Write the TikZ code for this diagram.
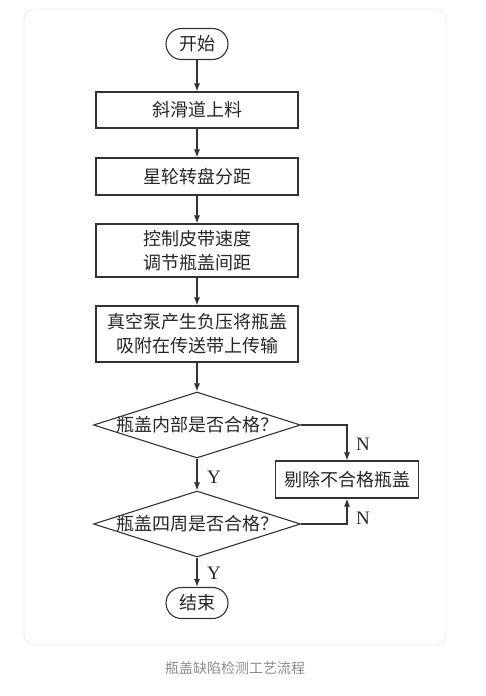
\documentclass[tikz,border=0pt]{standalone}
\usepackage{fontspec}
\setmainfont{Liberation Serif}
\newfontfamily\cjkfont{Noto Sans CJK SC}
\usetikzlibrary{arrows.meta, shapes.geometric}
\definecolor{inkgray}{HTML}{333333}
\tikzset{
  flow line/.style={line width=1.1pt, inkgray},
  flow arrow/.style={flow line, -{Latex[length=8pt, width=6pt]}},
  process box/.style={draw=inkgray, line width=1.1pt, minimum width=202pt, minimum height=36pt, inner sep=0pt, align=center, text=black!85, font=\cjkfont\fontsize{18}{24}\selectfont},
  terminal box/.style={process box, minimum width=62pt, minimum height=31pt, rounded corners=15.5pt},
  decision box/.style={diamond, draw=inkgray, line width=1.1pt, minimum width=207pt, minimum height=66pt, inner sep=0pt, text=black!85, font=\cjkfont\fontsize{18}{24}\selectfont},
  branch label/.style={text=black!85, font=\fontsize{19}{20}\selectfont},
  card frame/.style={draw=black!8, line width=0.8pt, rounded corners=10pt},
  caption text/.style={text=black!45, font=\cjkfont\fontsize{14}{16}\selectfont},
}
\newcommand{\flatText}[1]{\makebox[0pt]{#1}}

\begin{document}
\begin{tikzpicture}[x=1pt, y=-1pt]
  \useasboundingbox (0,0) rectangle (486,696);
  \draw[card frame] (24,9) rectangle (446,645);
  % main column
  \node[terminal box] (start) at (197,44) {开始};
  \node[process box] (load) at (197,110) {斜滑道上料};
  \node[process box, minimum height=37pt] (star) at (197,176.5) {星轮转盘分距};
  \node[process box, minimum height=53pt] (speed) at (197,250.5) {控制皮带速度\\调节瓶盖间距};
  \node[process box, minimum height=56pt] (vacuum) at (197,334) {真空泵产生负压将瓶盖\\吸附在传送带上传输};
  \node[decision box] (inner) at (197,425) {\flatText{瓶盖内部是否合格？}};
  \node[decision box] (around) at (197,524) {\flatText{瓶盖四周是否合格？}};
  \node[terminal box] (finish) at (197,603) {结束};
  \node[process box, minimum width=143pt, minimum height=37pt] (reject) at (347,479.5) {剔除不合格瓶盖};
  % connectors
  \draw[flow arrow] (start) -- (load);
  \draw[flow arrow] (load) -- (star);
  \draw[flow arrow] (star) -- (speed);
  \draw[flow arrow] (speed) -- (vacuum);
  \draw[flow arrow] (vacuum.south) -- (inner.north);
  \draw[flow arrow] (inner.south) -- (around.north);
  \draw[flow arrow] (around.south) -- (finish.north);
  \draw[flow arrow] (inner.east) -| (reject.north);
  \draw[flow arrow] (around.east) -| (reject.south);
  % branch labels
  \node[branch label] (yes1) at (214,477) {Y};
  \node[branch label] (yes2) at (214,573) {Y};
  \node[branch label] (no1) at (363,444) {N};
  \node[branch label] (no2) at (363,518) {N};
  \node[caption text] (title) at (235,668) {瓶盖缺陷检测工艺流程};
\end{tikzpicture}
\end{document}
